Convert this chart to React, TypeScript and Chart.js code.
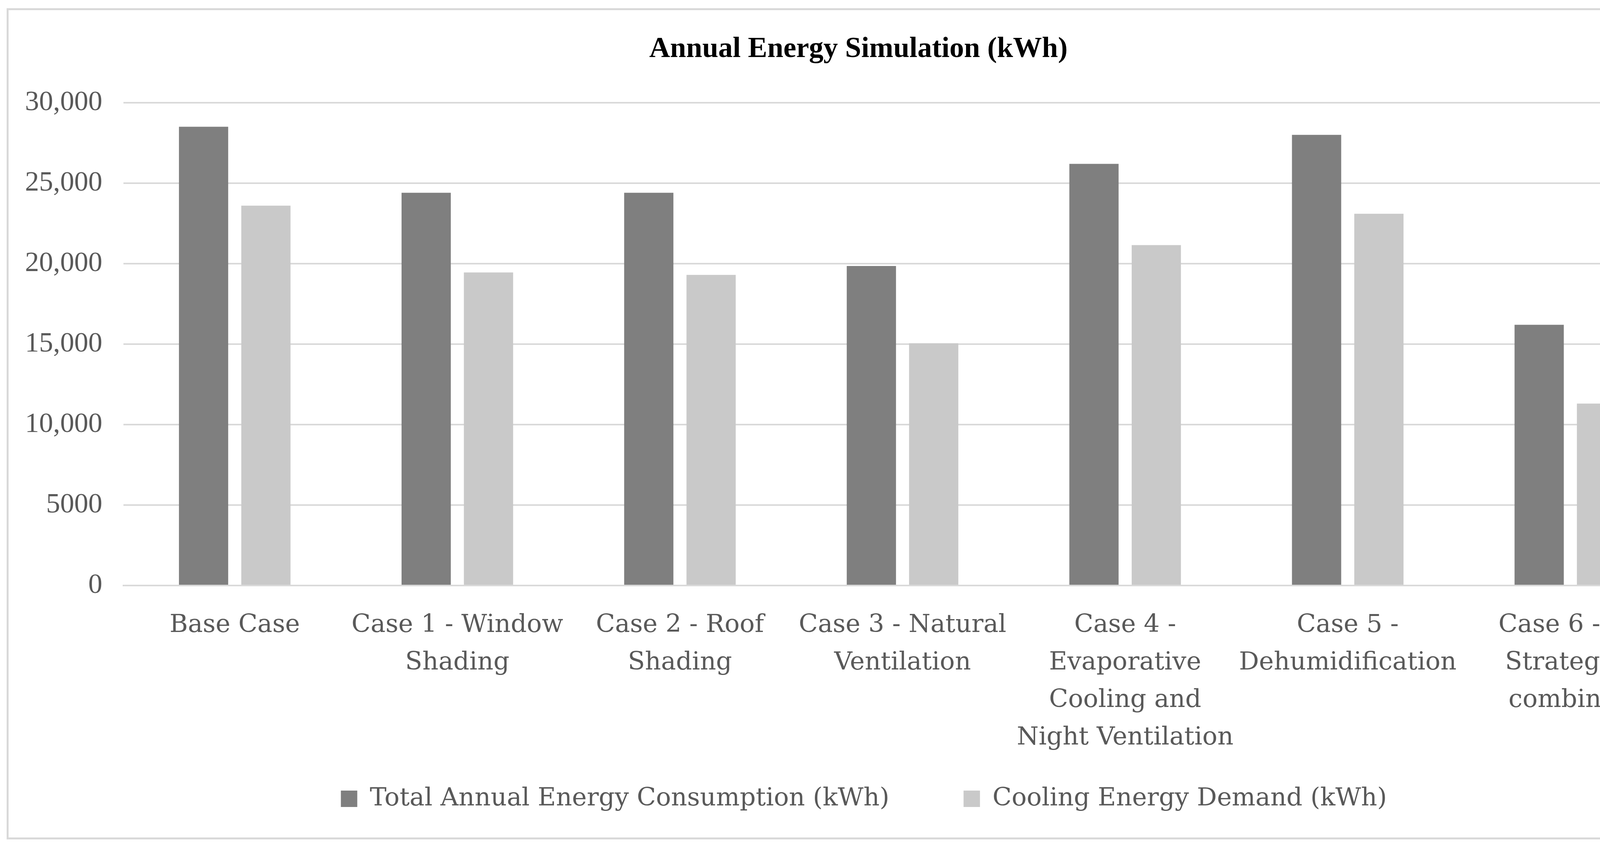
import { useEffect, useRef } from 'react';
import { Chart, registerables } from 'chart.js';

Chart.register(...registerables);

const chartTitle = 'Annual Energy Simulation (kWh)';
const categories: string[][] = [
  ['Base Case'],
  ['Case 1 - Window', 'Shading'],
  ['Case 2 - Roof', 'Shading'],
  ['Case 3 - Natural', 'Ventilation'],
  ['Case 4 -', 'Evaporative', 'Cooling and', 'Night Ventilation'],
  ['Case 5 -', 'Dehumidification'],
  ['Case 6 - All', 'Strategies', 'combined'],
];
const seriesNames = ['Total Annual Energy Consumption (kWh)', 'Cooling Energy Demand (kWh)'];
const totalEnergy = [28500, 24400, 24400, 19850, 26200, 28000, 16200];
const coolingDemand = [23600, 19450, 19300, 15050, 21150, 23100, 11300];
const yTickValues = [0, 5000, 10000, 15000, 20000, 25000, 30000];
const yTickLabels = ['0', '5000', '10,000', '15,000', '20,000', '25,000', '30,000'];

const TEXT_FONT = "'DejaVu Serif', serif";
const NUM_FONT = "'Liberation Serif', serif";

// nudges the centred title / legend boxes to sit where the reference has them
const boxShiftPlugin = {
  id: 'boxShift',
  afterLayout(chart: any) {
    const t = chart.titleBlock;
    if (t) {
      t.left += 40;
      t.right += 40;
    }
    const lg = chart.legend;
    if (lg) {
      lg.left += 54;
      lg.right += 54;
    }
  },
};

export default function App() {
  const ref = useRef<HTMLCanvasElement>(null);

  useEffect(() => {
    const canvas = ref.current;
    if (!canvas) return;
    const chart = new Chart(canvas, {
      type: 'bar',
      data: {
        labels: categories,
        datasets: [
          {
            label: seriesNames[0],
            data: totalEnergy,
            backgroundColor: '#7f7f7f',
            categoryPercentage: 0.56,
            barPercentage: 0.79,
          },
          {
            label: seriesNames[1],
            data: coolingDemand,
            backgroundColor: '#c9c9c9',
            categoryPercentage: 0.56,
            barPercentage: 0.79,
          },
        ],
      },
      plugins: [boxShiftPlugin],
      options: {
        responsive: false,
        animation: false,
        devicePixelRatio: 1,
        layout: { padding: { left: 10, right: 97, top: 40, bottom: 84 } },
        plugins: {
          title: {
            display: true,
            text: chartTitle,
            color: '#000000',
            font: { family: NUM_FONT, size: 74, weight: 'bold', lineHeight: 1.2 },
            padding: { top: 42, bottom: 92 },
          },
          legend: {
            display: true,
            position: 'bottom',
            labels: {
              boxWidth: 42,
              boxHeight: 42,
              color: '#595959',
              font: { family: TEXT_FONT, size: 64 },
              padding: 190,
            },
          },
          tooltip: { enabled: false },
        },
        scales: {
          x: {
            grid: { display: false, drawTicks: false },
            border: { display: true, color: '#d9d9d9', width: 4 },
            ticks: {
              color: '#595959',
              font: { family: TEXT_FONT, size: 64, lineHeight: 1.5 },
              padding: 54,
              maxRotation: 0,
              minRotation: 0,
              autoSkip: false,
            },
            afterFit: (scale: any) => {
              scale.height = 324;
              // let the lower label lines run into the legend's empty top padding
              scale._computeLabelArea = () => undefined;
            },
          },
          y: {
            min: 0,
            max: 30000,
            grid: { color: '#d9d9d9', lineWidth: 4, drawTicks: false },
            border: { display: false },
            ticks: {
              stepSize: 5000,
              color: '#595959',
              font: { family: NUM_FONT, size: 72 },
              padding: 54,
              callback: (value: any) => {
                const i = yTickValues.indexOf(Number(value));
                return i >= 0 ? yTickLabels[i] : '';
              },
            },
          },
        },
      },
    });
    return () => chart.destroy();
  }, []);

  return (
    <div
      style={{
        position: 'fixed',
        left: 0,
        top: 0,
        width: 4402,
        height: 2171,
        background: '#ffffff',
        overflow: 'hidden',
      }}
    >
      <div
        style={{
          position: 'absolute',
          left: 17,
          top: 21,
          width: 4362,
          height: 2128,
          boxSizing: 'border-box',
          border: '5px solid #d9d9d9',
        }}
      />
      <canvas ref={ref} width={4402} height={2171} style={{ position: 'absolute', left: 0, top: 0 }} />
    </div>
  );
}
